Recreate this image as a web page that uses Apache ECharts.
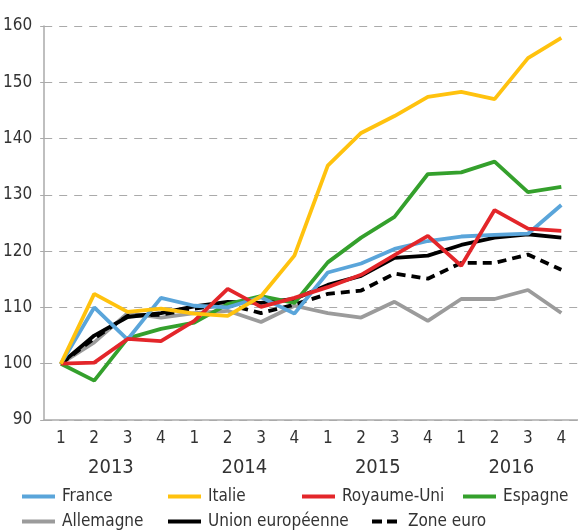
<!DOCTYPE html>
<html>
<head>
<meta charset="utf-8">
<script src="https://cdn.jsdelivr.net/npm/echarts@6/dist/echarts.min.js"></script>
<style>
  html, body { margin: 0; padding: 0; background: #fff; }
  #chart { width: 578px; height: 530px; }
</style>
</head>
<body>
<div id="chart"></div>
<script>
// quarters and years
const quarters = ["1", "2", "3", "4", "1", "2", "3", "4", "1", "2", "3", "4", "1", "2", "3", "4"];
const years = ["2013", "2014", "2015", "2016"];

// index values, base 100 = 2013 T1
const france = [100, 110, 104.3, 111.7, 110.3, 110, 111.8, 108.9, 116.2, 117.8, 120.4, 121.8, 122.6, 122.9, 123.1, 128.2];
const italie = [100, 112.4, 109.2, 109.8, 108.9, 108.5, 112, 119.2, 135.2, 141, 144, 147.4, 148.3, 147, 154.3, 157.9];
const royaumeUni = [100, 100.2, 104.4, 104, 107.6, 113.3, 110.1, 111.7, 113.6, 115.8, 119.3, 122.7, 117.4, 127.3, 124, 123.6];
const espagne = [100, 97, 104.5, 106.2, 107.3, 110.6, 112, 110.8, 118, 122.4, 126.1, 133.7, 134, 135.9, 130.5, 131.4];
const allemagne = [100, 103.8, 109, 108.2, 109, 109.4, 107.4, 110.3, 109, 108.2, 111, 107.6, 111.5, 111.5, 113.1, 109];
const unionEuropeenne = [100, 105, 108.3, 109, 110.2, 111, 110.8, 111.5, 114, 115.6, 118.8, 119.2, 121.1, 122.4, 123, 122.4];
const zoneEuro = [100, 104.5, 108.5, 108.7, 109.8, 110.5, 109, 110.5, 112.4, 113, 116, 115.1, 117.9, 117.9, 119.4, 116.7];

const FONT = "'Liberation Sans Narrow', 'DejaVu Sans Condensed', 'Open Sans', sans-serif";
const TXT = "#333";
const AXIS = "#aaaaaa";

const chart = echarts.init(document.getElementById("chart"));

function line(name, data, color, type) {
  return {
    name: name,
    type: "line",
    data: data,
    symbol: "none",
    lineStyle: { color: color, width: 3.8, type: type || "solid" },
    itemStyle: { color: color },
    z: 3
  };
}

// one legend per item so each sits where the original puts it
function leg(name, left, top, icon) {
  return {
    data: [name],
    left: left,
    top: top,
    icon: icon || "rect",
    itemWidth: 33,
    itemHeight: 4,
    itemGap: 0,
    padding: 0,
    textStyle: { fontFamily: FONT, fontSize: 17, color: TXT, padding: [0, 0, 0, 2] }
  };
}

chart.setOption({
  animation: false,
  grid: { left: 44, right: -10, top: 26, bottom: 110 },
  legend: [
    leg("France", 22, 488),
    leg("Italie", 168, 488),
    leg("Royaume-Uni", 302, 488),
    leg("Espagne", 463, 488),
    leg("Allemagne", 22, 513),
    leg("Union européenne", 168, 513),
    leg("Zone euro", 372, 513, "path://M0,0h10v4h-10z M15,0h10v4h-10z")
  ],
  xAxis: [
    {
      type: "category",
      data: quarters,
      position: "bottom",
      boundaryGap: true,
      axisLine: { lineStyle: { color: AXIS, width: 1.5 } },
      axisTick: { length: 38, lineStyle: { color: AXIS, width: 1.2 } },
      axisLabel: { margin: 10, fontFamily: FONT, fontSize: 17, color: TXT, interval: 0 }
    },
    {
      type: "category",
      data: years,
      position: "bottom",
      boundaryGap: true,
      axisLine: { show: false },
      axisTick: { length: 58, lineStyle: { color: AXIS, width: 1.2 } },
      axisLabel: { margin: 38, fontFamily: FONT, fontSize: 20, color: TXT, interval: 0 }
    }
  ],
  yAxis: {
    type: "value",
    min: 90,
    max: 160,
    interval: 10,
    axisLine: { show: true, lineStyle: { color: AXIS, width: 1.5 } },
    axisTick: { show: true, length: 4, lineStyle: { color: AXIS } },
    axisLabel: { margin: 12, fontFamily: FONT, fontSize: 17, color: TXT },
    splitLine: { lineStyle: { color: "#aaaaaa", type: [8, 7], width: 1.2 } }
  },
  series: [
    line("Allemagne", allemagne, "#9b9b9b"),
    line("Union européenne", unionEuropeenne, "#000000"),
    line("Zone euro", zoneEuro, "#000000", [9, 6]),
    line("Espagne", espagne, "#34a02c"),
    line("France", france, "#5aa5da"),
    line("Royaume-Uni", royaumeUni, "#e3262a"),
    line("Italie", italie, "#ffc20e")
  ]
});
</script>
</body>
</html>
